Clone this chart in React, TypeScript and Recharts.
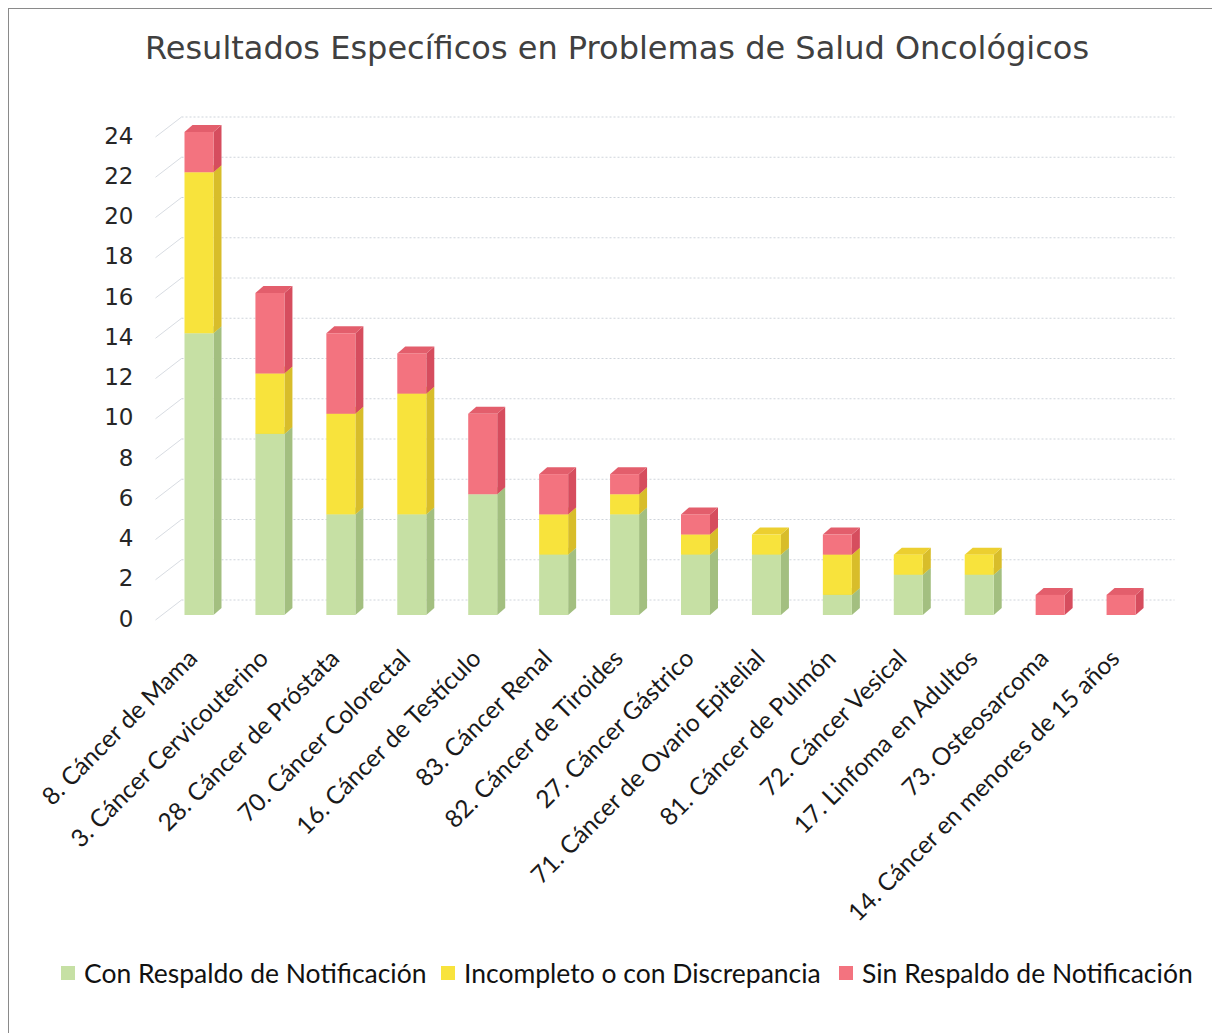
import React from 'react';
import { BarChart, Bar, XAxis, YAxis, CartesianGrid } from 'recharts';

const categories = [
  '8. Cáncer de Mama',
  '3. Cáncer Cervicouterino',
  '28. Cáncer de Próstata',
  '70. Cáncer Colorectal',
  '16. Cáncer de Testículo',
  '83. Cáncer Renal',
  '82. Cáncer de Tiroides',
  '27. Cáncer Gástrico',
  '71. Cáncer de Ovario Epitelial',
  '81. Cáncer de Pulmón',
  '72. Cáncer Vesical',
  '17. Linfoma en Adultos',
  '73. Osteosarcoma',
  '14. Cáncer en menores de 15 años',
];
const conRespaldo = [14, 9, 5, 5, 6, 3, 5, 3, 3, 1, 2, 2, 0, 0];
const incompleto = [8, 3, 5, 6, 0, 2, 1, 1, 1, 2, 1, 1, 0, 0];
const sinRespaldo = [2, 4, 4, 2, 4, 2, 1, 1, 0, 1, 0, 0, 1, 1];
const yTicks = [0, 2, 4, 6, 8, 10, 12, 14, 16, 18, 20, 22, 24];
const seriesNames = ['Con Respaldo de Notificación', 'Incompleto o con Discrepancia', 'Sin Respaldo de Notificación'];

const data = categories.map((c, i) => ({
  name: c,
  a: conRespaldo[i],
  b: incompleto[i],
  c: sinRespaldo[i],
}));

const COLORS = [
  { front: '#c6e0a4', side: '#a3bf80', top: '#b4d292' },
  { front: '#f8e33c', side: '#d8bd2a', top: '#eccf30' },
  { front: '#f3737f', side: '#d64d5e', top: '#e35e6c' },
];

const DX = 8;
const DY = 7;

const make3D = (ci: number) => (props: any) => {
  const { x, y, width, height } = props;
  if (!height || height <= 0) return <g />;
  const col = COLORS[ci];
  const side = `${x + width},${y} ${x + width + DX},${y - DY} ${x + width + DX},${y + height - DY} ${x + width},${y + height}`;
  const top = `${x},${y} ${x + DX},${y - DY} ${x + width + DX},${y - DY} ${x + width},${y}`;
  return (
    <g>
      <polygon points={side} fill={col.side} />
      <polygon points={top} fill={col.top} />
      <rect x={x} y={y} width={width} height={height} fill={col.front} />
    </g>
  );
};

const GX = 18;
const GY = -15;

const gridLine = (p: any) => (
  <g key={p.key}>
    <line x1={p.x1 + GX} y1={p.y1 + GY} x2={p.x2 + GX} y2={p.y2 + GY} stroke="#cfd4db" strokeWidth={1} strokeDasharray="2 2" />
    <line x1={p.x1 - 8} y1={p.y1 + 5} x2={p.x1 + GX} y2={p.y1 + GY} stroke="#d8dce2" strokeWidth={1} />
  </g>
);

const YTick = (props: any) => {
  const { x, y, payload } = props;
  return (
    <text x={x - 22} y={y + 5} textAnchor="end" dominantBaseline="middle" fontFamily="'DejaVu Sans', Verdana, sans-serif" fontSize={23} fill="#262626">
      {payload.value}
    </text>
  );
};

const XTick = (props: any) => {
  const { x, y, payload } = props;
  const ax = x;
  const ay = y + 45;
  return (
    <text x={ax} y={ay} textAnchor="end" transform={`rotate(-45 ${ax} ${ay})`} fontFamily="Lato, 'Open Sans', sans-serif" fontSize={24.5} fill="#1a1a1a">
      {payload.value}
    </text>
  );
};

const legendPos = [60, 440, 838];

export default function App() {
  return (
    <div style={{ position: 'relative', width: 1212, height: 1025, borderTop: '1px solid #8a8a8a', borderLeft: '1px solid #8a8a8a', boxSizing: 'border-box', background: '#fff' }}>
      <div style={{ position: 'absolute', left: 0, top: 20, width: 1216, textAlign: 'center', fontFamily: "'DejaVu Sans', Verdana, sans-serif", fontSize: 32, color: '#404040', whiteSpace: 'nowrap' }}>
        Resultados Específicos en Problemas de Salud Oncológicos
      </div>
      <div style={{ position: 'absolute', left: -1, top: -1 }}>
        <BarChart width={1212} height={1017} data={data} margin={{ top: 124, right: 63.5, left: 95.5, bottom: 110 }} barSize={29}>
          <CartesianGrid vertical={false} horizontal={gridLine} />
          <XAxis dataKey="name" interval={0} height={300} axisLine={false} tickLine={false} tickSize={0} tickMargin={0} tick={<XTick />} />
          <YAxis domain={[0, 24]} ticks={yTicks} width={60} axisLine={false} tickLine={false} tick={<YTick />} interval={0} />
          <Bar dataKey="a" stackId="s" name={seriesNames[0]} shape={make3D(0)} isAnimationActive={false} />
          <Bar dataKey="b" stackId="s" name={seriesNames[1]} shape={make3D(1)} isAnimationActive={false} />
          <Bar dataKey="c" stackId="s" name={seriesNames[2]} shape={make3D(2)} isAnimationActive={false} />
        </BarChart>
      </div>
      {seriesNames.map((n, i) => (
        <div key={n} style={{ position: 'absolute', left: legendPos[i] - 8, top: 948, display: 'flex', alignItems: 'center', fontFamily: "Lato, 'Open Sans', sans-serif", fontSize: 26.5, color: '#111', whiteSpace: 'nowrap' }}>
          <span style={{ display: 'inline-block', width: 14, height: 14, background: COLORS[i].front, marginRight: 9 }} />
          <span>{n}</span>
        </div>
      ))}
    </div>
  );
}
